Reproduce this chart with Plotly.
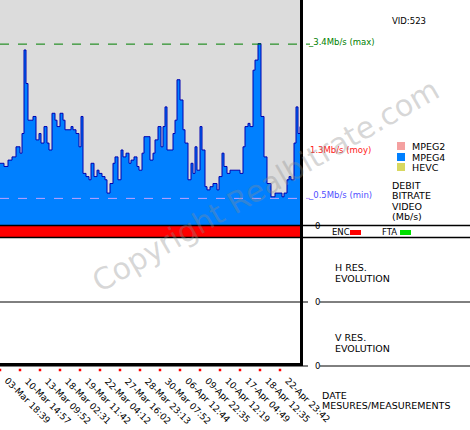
import plotly.graph_objects as go

# bitrate samples (Mb/s) along the time axis (pixel-position index 0..300)
sample_pos = [0,4,8,12,16,20,22,24,26,28,33,36,39,41,44,47,49,52,55,57,60,63,65,68,71,73,76,79,81,83,86,89,91,94,97,99,102,105,107,110,113,115,118,121,123,126,129,131,134,137,139,142,144,147,150,153,155,158,161,163,165,167,169,173,175,177,180,183,185,188,191,193,195,197,200,202,205,207,210,213,215,217,219,222,224,227,230,233,235,238,240,243,245,248,250,253,255,258,261,264,267,269,271,275,278,282,284,287,289,291,294,296,298,300]
bitrate = [1.16,1.10,1.22,1.28,1.47,1.35,1.72,3.29,2.66,1.97,2.04,1.60,1.72,1.54,1.85,1.54,1.41,2.10,1.97,1.85,2.10,1.97,1.79,1.79,1.85,1.79,1.72,1.47,2.04,0.97,0.91,0.85,1.16,0.91,1.03,0.97,0.91,0.85,0.60,0.78,1.16,1.28,0.85,1.41,1.28,1.35,1.16,1.22,1.28,1.10,1.03,1.35,1.66,1.66,1.22,1.35,1.60,1.85,1.47,1.85,2.22,1.41,1.41,1.72,1.97,2.73,2.35,1.79,1.54,0.85,1.16,0.97,1.47,1.03,1.85,1.41,0.72,0.66,0.72,0.78,0.78,0.66,0.91,1.35,1.10,0.97,1.03,1.03,1.03,1.03,0.97,1.47,1.85,1.91,1.85,2.91,3.10,3.41,2.04,1.28,0.78,0.78,0.53,0.60,0.60,0.53,0.60,0.85,0.91,0.85,1.54,2.22,1.72,1.85,1.60,1.41,1.35,1.35]
tick_pos = [0,20,40,60,80,100,120,140,160,180,200,220,240,260,280]
tick_labels = ["03-Mar 18:39","10-Mar 14:57","13-Mar 09:52","18-Mar 02:31","19-Mar 11:42",
               "22-Mar 04:12","27-Mar 16:02","28-Mar 23:13","30-Mar 07:52","06-Apr 12:44",
               "09-Apr 22:35","10-Apr 12:19","17-Apr 04:49","18-Apr 12:35","22-Apr 23:42"]
br_max, br_mean, br_min = 3.4, 1.3, 0.5

W, H = 470, 430
PX_PER_MB = 53.2
def px(x): return x / W
def py(y): return 1 - y / H

FONT = "DejaVu Sans"
fig = go.Figure()
fig.add_trace(go.Scatter(x=sample_pos, y=bitrate, mode="lines", line=dict(shape="hv", color="#0000b0", width=1),
                         fill="tozeroy", fillcolor="#0080ff", hoverinfo="skip", showlegend=False))
fig.add_trace(go.Scatter(x=tick_pos, y=[0.5]*len(tick_pos), xaxis="x2", yaxis="y2", mode="markers",
                         marker=dict(size=2.5, color="red", symbol="square"), showlegend=False, hoverinfo="skip"))

fig.update_layout(
    width=W, height=H, margin=dict(l=0, r=0, t=0, b=0), autosize=False,
    paper_bgcolor="white", plot_bgcolor="rgba(0,0,0,0)",
    font=dict(family=FONT, size=10, color="black"),
    xaxis=dict(domain=[0, px(300)], range=[0, 300], showgrid=False, zeroline=False, showticklabels=False, fixedrange=True),
    yaxis=dict(domain=[py(225), 1], range=[0, 225 / PX_PER_MB], showgrid=False, zeroline=False, showticklabels=False),
    xaxis2=dict(domain=[0, px(300)], range=[0, 300], anchor="y2", showgrid=False, zeroline=False, showticklabels=False),
    yaxis2=dict(domain=[py(372), py(368)], range=[0, 1], showgrid=False, zeroline=False, showticklabels=False),
)

shapes = []
shapes.append(dict(type="rect", xref="paper", yref="paper", x0=0, x1=px(300), y0=py(225), y1=1,
                   fillcolor="#dcdcdc", line_width=0, layer="below"))
shapes.append(dict(type="rect", xref="paper", yref="paper", x0=0, x1=px(300), y0=py(237), y1=py(226),
                   fillcolor="#ff0000", line_width=0))
for y in (225.5, 237.5):
    shapes.append(dict(type="line", xref="paper", yref="paper", x0=0, x1=1, y0=py(y), y1=py(y), line=dict(color="black", width=1.5)))
for y in (302, 366):
    shapes.append(dict(type="line", xref="paper", yref="paper", x0=0, x1=px(308), y0=py(y), y1=py(y), line=dict(color="black", width=1)))
    shapes.append(dict(type="line", xref="paper", yref="paper", x0=px(320), x1=1, y0=py(y), y1=py(y), line=dict(color="black", width=1)))
shapes.append(dict(type="line", xref="paper", yref="y", x0=0, x1=px(310), y0=br_max, y1=br_max, line=dict(color="#008000", width=1, dash="dash")))
shapes.append(dict(type="line", xref="paper", yref="y", x0=0, x1=px(310), y0=br_min, y1=br_min, line=dict(color="#c0a0ff", width=1, dash="dash")))
shapes.append(dict(type="line", xref="paper", yref="paper", x0=px(301.5), x1=px(301.5), y0=py(366), y1=1, line=dict(color="black", width=3)))
shapes.append(dict(type="line", xref="paper", yref="paper", x0=0, x1=px(303), y0=py(364.5), y1=py(364.5), line=dict(color="black", width=3)))
for y, c in ((146, "#f4a0a0"), (157, "#0080ff"), (167, "#d8d860")):
    shapes.append(dict(type="rect", xref="paper", yref="paper", x0=px(397), x1=px(405), y0=py(y + 4), y1=py(y - 4), fillcolor=c, line_width=0))
shapes.append(dict(type="rect", xref="paper", yref="paper", x0=px(350), x1=px(361), y0=py(235), y1=py(230), fillcolor="#ff0000", line_width=0))
shapes.append(dict(type="rect", xref="paper", yref="paper", x0=px(400), x1=px(411), y0=py(235), y1=py(230), fillcolor="#00e000", line_width=0))
fig.update_layout(shapes=shapes)

def ann(x, y, text, color="black", size=9.5, xanchor="left"):
    fig.add_annotation(xref="paper", yref="paper", x=px(x), y=py(y), text=text, showarrow=False,
                       xanchor=xanchor, yanchor="middle", font=dict(color=color, size=size, family=FONT))

ann(390, 21, "VID:523", size=8.5)
ann(306, 42, f"_{br_max}Mb/s (max)", "#008000", 8.5)
ann(308, 150, f"{br_mean}Mb/s (moy)", "#ff2020", 8.5)
ann(306, 195, f"_{br_min}Mb/s (min)", "#5050ff", 8.5)
ann(410, 146, "MPEG2"); ann(410, 157, "MPEG4"); ann(410, 167, "HEVC")
for i, t in enumerate(["DEBIT", "BITRATE", "VIDEO", "(Mb/s)"]):
    ann(390, 186 + i * 10, t)
ann(313, 226, "0", size=8.5); ann(313, 302, "0", size=8.5); ann(313, 366, "0", size=8.5)
ann(330, 232, "ENC", size=8.5); ann(380, 232, "FTA", size=8.5)
ann(333, 267, "H RES."); ann(333, 278, "EVOLUTION")
ann(333, 337, "V RES."); ann(333, 348, "EVOLUTION")
ann(320, 395, "DATE"); ann(320, 405, "MESURES/MEASUREMENTS")
for xp, t in zip(tick_pos, tick_labels):
    fig.add_annotation(xref="x", yref="paper", x=xp, y=py(373), text=t, showarrow=False, textangle=45,
                       xanchor="left", yanchor="top", font=dict(size=9, family=FONT))
fig.add_annotation(xref="paper", yref="paper", x=px(265), y=py(185), text="Copyright Realbitrate.com", showarrow=False,
                   textangle=-30, font=dict(size=30, family=FONT, color="rgba(140,140,140,0.35)"))

fig.write_html("out.html", config={"responsive": False, "displayModeBar": False},
               post_script="document.body.style.margin='0';document.body.style.overflow='hidden';")
